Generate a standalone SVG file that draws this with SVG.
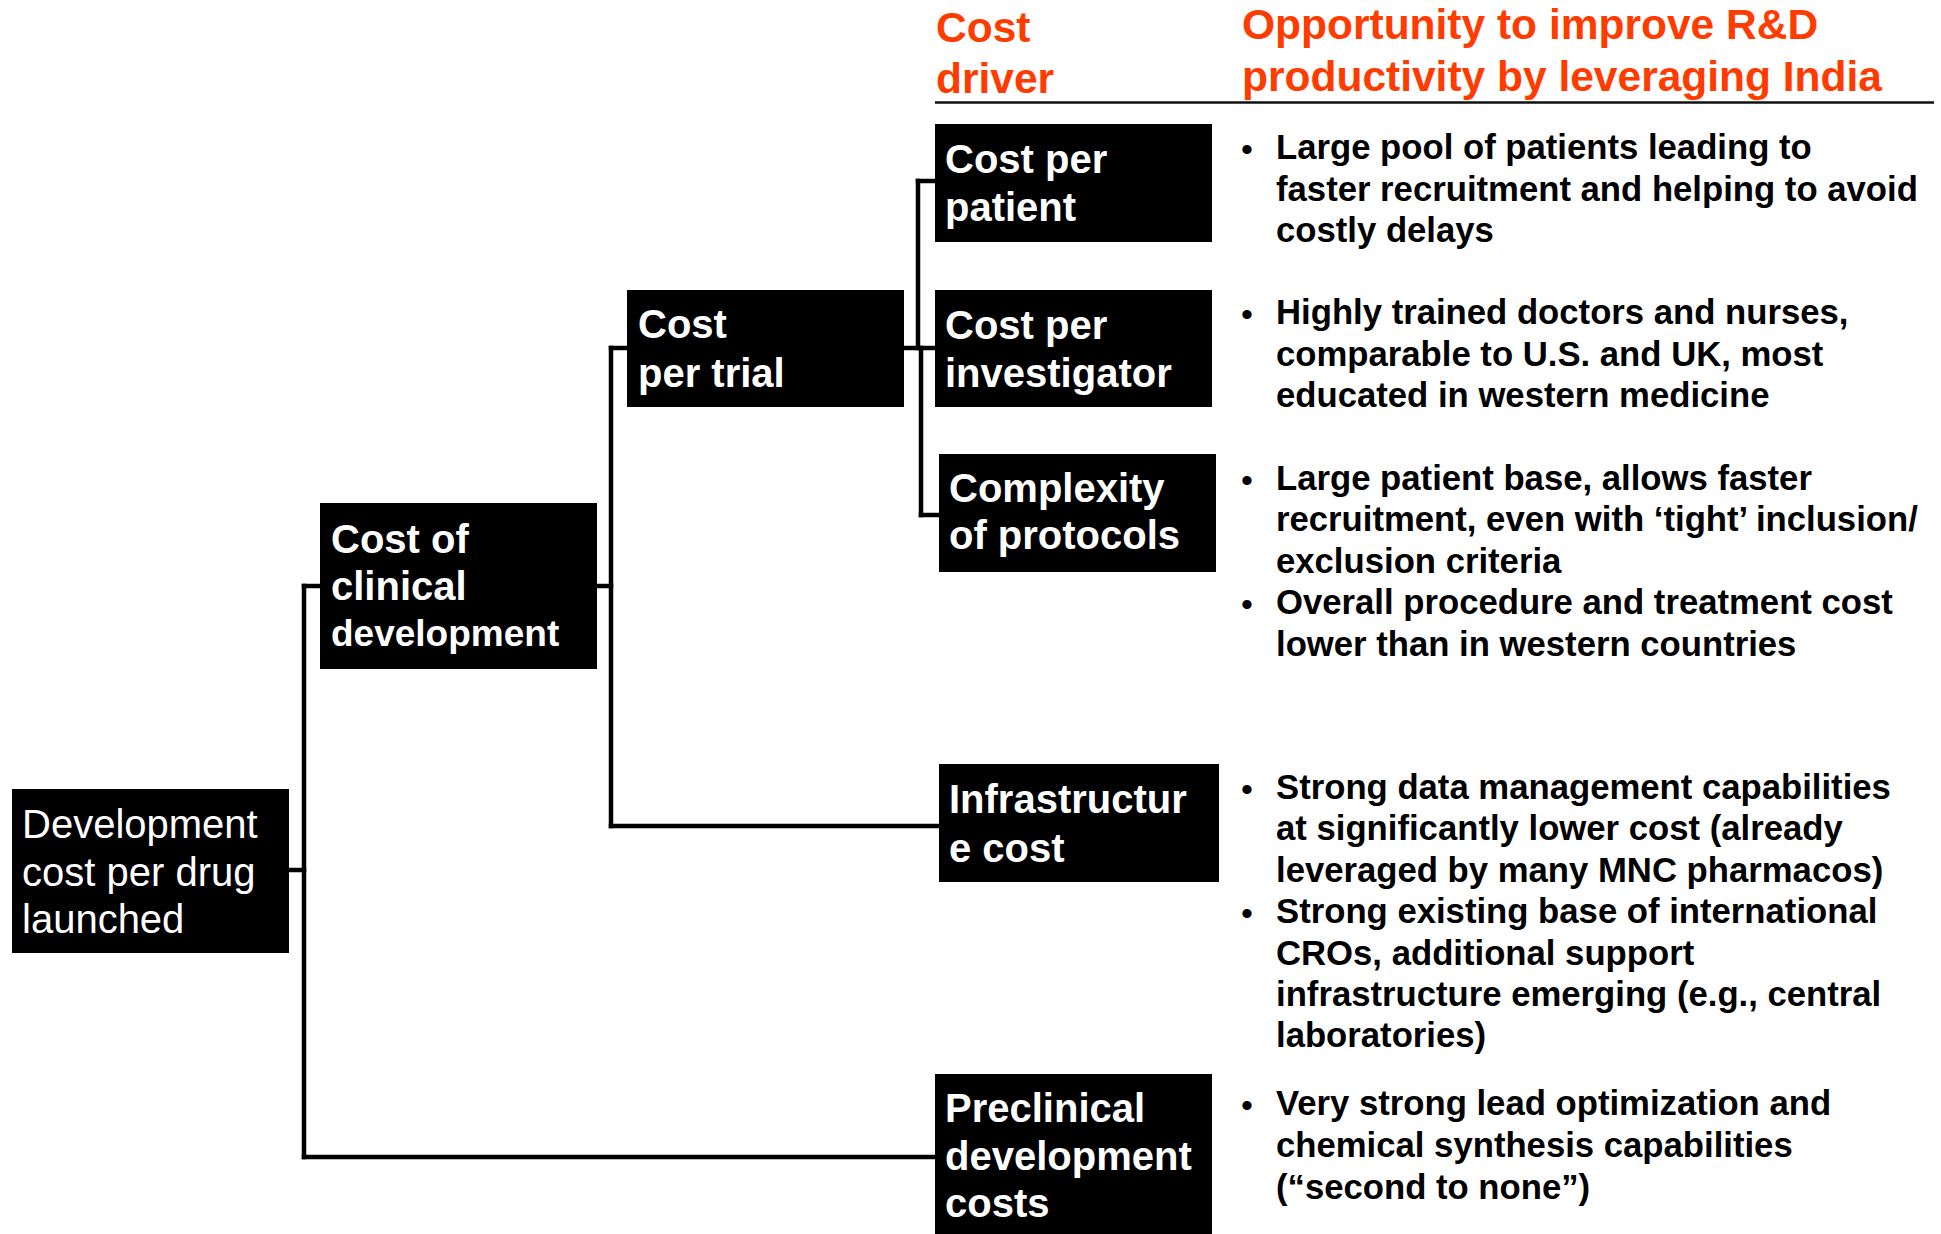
<svg xmlns="http://www.w3.org/2000/svg" width="1941" height="1234" viewBox="0 0 1941 1234">
  <style>
    .box { fill: #000; }
    .lbl { font-family: "Liberation Sans", Arial, sans-serif; font-size: 40px; font-weight: bold; fill: #fff; }
    .lbl.reg { font-weight: normal; }
    .hdr { font-family: "Liberation Sans", Arial, sans-serif; font-size: 42.5px; font-weight: bold; fill: #ff3c00; }
    .txt { font-family: "Liberation Sans", Arial, sans-serif; font-size: 34.7px; font-weight: bold; fill: #000; }
    .dot { font-family: "Liberation Sans", Arial, sans-serif; font-size: 34px; fill: #000; }
    .conn { fill: none; stroke: #000; stroke-width: 4.5; stroke-linecap: square; stroke-linejoin: miter; }
    .rule { stroke: #111; stroke-width: 2.5; }
  </style>

  <rect width="1941" height="1234" fill="#fff"/>

  <!-- column headings -->
  <g id="headings">
    <text class="hdr" x="936" y="42">Cost</text>
    <text class="hdr" x="936" y="93">driver</text>
    <text class="hdr" x="1242" y="39">Opportunity to improve R&amp;D</text>
    <text class="hdr" x="1242" y="91">productivity by leveraging India</text>
    <line class="rule" x1="935" y1="102.5" x2="1934" y2="102.5"/>
  </g>

  <!-- tree connectors -->
  <g id="connectors">
    <path class="conn" d="M289 870 H304"/>
    <path class="conn" d="M304 586 V1157"/>
    <path class="conn" d="M304 586 H320"/>
    <path class="conn" d="M304 1157 H935"/>
    <path class="conn" d="M597 586 H611"/>
    <path class="conn" d="M611 348 V826"/>
    <path class="conn" d="M611 348 H627"/>
    <path class="conn" d="M611 826 H939"/>
    <path class="conn" d="M904 348 H935"/>
    <path class="conn" d="M918 181 V348"/>
    <path class="conn" d="M921 348 V515"/>
    <path class="conn" d="M918 181 H935"/>
    <path class="conn" d="M921 515 H939"/>
  </g>

  <!-- nodes -->
  <g id="node-root">
    <rect class="box" x="12" y="789" width="277" height="164"/>
    <text class="lbl reg"><tspan x="22" y="838">Development</tspan><tspan x="22" y="886">cost per drug</tspan><tspan x="22" y="933">launched</tspan></text>
  </g>

  <g id="node-clinical">
    <rect class="box" x="320" y="503" width="277" height="166"/>
    <text class="lbl"><tspan x="331" y="552.5">Cost of</tspan><tspan x="331" y="599.5">clinical</tspan><tspan x="331" y="645.5" font-size="37">development</tspan></text>
  </g>

  <g id="node-trial">
    <rect class="box" x="627" y="290" width="277" height="117"/>
    <text class="lbl"><tspan x="638" y="338">Cost</tspan><tspan x="638" y="387">per trial</tspan></text>
  </g>

  <g id="node-patient">
    <rect class="box" x="935" y="124" width="277" height="118"/>
    <text class="lbl"><tspan x="945" y="173">Cost per</tspan><tspan x="945" y="221">patient</tspan></text>
  </g>

  <g id="node-investigator">
    <rect class="box" x="935" y="290" width="277" height="117"/>
    <text class="lbl"><tspan x="945" y="339">Cost per</tspan><tspan x="945" y="387">investigator</tspan></text>
  </g>

  <g id="node-protocols">
    <rect class="box" x="939" y="454" width="277" height="118"/>
    <text class="lbl"><tspan x="949" y="502">Complexity</tspan><tspan x="949" y="549">of protocols</tspan></text>
  </g>

  <g id="node-infrastructure">
    <rect class="box" x="939" y="764" width="280" height="118"/>
    <text class="lbl"><tspan x="949" y="813">Infrastructur</tspan><tspan x="949" y="862">e cost</tspan></text>
  </g>

  <g id="node-preclinical">
    <rect class="box" x="935" y="1074" width="277" height="160"/>
    <text class="lbl"><tspan x="945" y="1122">Preclinical</tspan><tspan x="945" y="1170">development</tspan><tspan x="945" y="1217">costs</tspan></text>
  </g>

  <!-- opportunity notes -->
  <g id="notes-patient">
    <text class="dot" x="1241" y="161">•</text>
    <text class="txt"><tspan x="1276" y="159">Large pool of patients leading to</tspan><tspan x="1276" y="200.5">faster recruitment and helping to avoid</tspan><tspan x="1276" y="242">costly delays</tspan></text>
  </g>

  <g id="notes-investigator">
    <text class="dot" x="1241" y="326">•</text>
    <text class="txt"><tspan x="1276" y="324">Highly trained doctors and nurses,</tspan><tspan x="1276" y="365.5">comparable to U.S. and UK, most</tspan><tspan x="1276" y="407">educated in western medicine</tspan></text>
  </g>

  <g id="notes-protocols">
    <text class="dot" x="1241" y="491.5">•</text>
    <text class="txt"><tspan x="1276" y="489.5">Large patient base, allows faster</tspan><tspan x="1276" y="531">recruitment, even with ‘tight’ inclusion/</tspan><tspan x="1276" y="572.5">exclusion criteria</tspan></text>
    <text class="dot" x="1241" y="616">•</text>
    <text class="txt"><tspan x="1276" y="614">Overall procedure and treatment cost</tspan><tspan x="1276" y="655.5">lower than in western countries</tspan></text>
  </g>

  <g id="notes-infrastructure">
    <text class="dot" x="1241" y="801">•</text>
    <text class="txt"><tspan x="1276" y="799">Strong data management capabilities</tspan><tspan x="1276" y="840.4">at significantly lower cost (already</tspan><tspan x="1276" y="881.8">leveraged by many MNC pharmacos)</tspan></text>
    <text class="dot" x="1241" y="925.2">•</text>
    <text class="txt"><tspan x="1276" y="923.2">Strong existing base of international</tspan><tspan x="1276" y="964.6">CROs, additional support</tspan><tspan x="1276" y="1006">infrastructure emerging (e.g., central</tspan><tspan x="1276" y="1047.4">laboratories)</tspan></text>
  </g>

  <g id="notes-preclinical">
    <text class="dot" x="1241" y="1117">•</text>
    <text class="txt"><tspan x="1276" y="1115">Very strong lead optimization and</tspan><tspan x="1276" y="1157">chemical synthesis capabilities</tspan><tspan x="1276" y="1199">(“second to none”)</tspan></text>
  </g>
</svg>
